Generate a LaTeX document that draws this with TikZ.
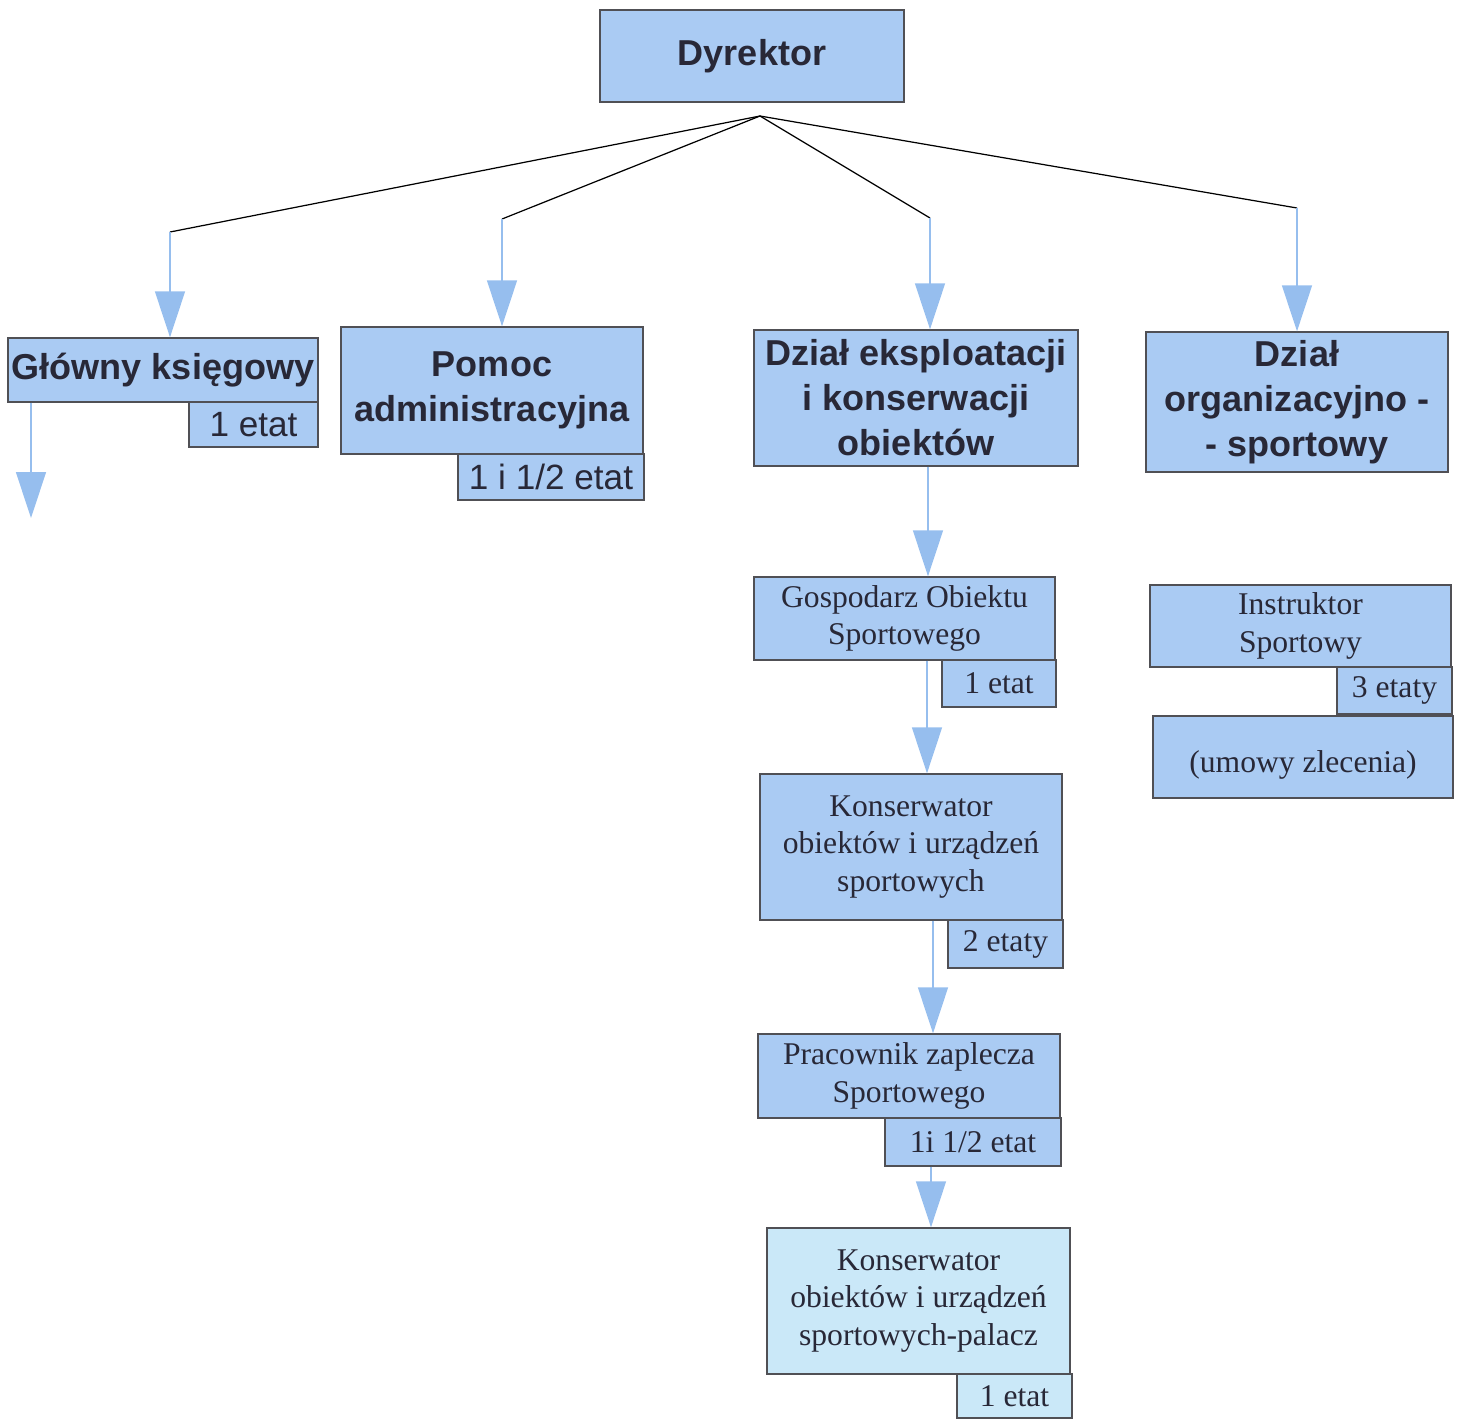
\documentclass[tikz,border=0pt]{standalone}
\usepackage{fontspec}
\setmainfont{Liberation Serif}
\newfontfamily\headfont{Liberation Sans}
\usetikzlibrary{arrows.meta}
\definecolor{boxblue}{RGB}{170,203,243}
\definecolor{boxpale}{RGB}{202,232,248}
\definecolor{arrowblue}{RGB}{150,190,238}
\definecolor{edgegray}{RGB}{80,80,85}
\definecolor{inkdark}{RGB}{40,40,55}

\begin{document}
\begin{tikzpicture}[x=0.02cm,
				y=-0.02cm,
				box/.style={draw=edgegray, fill=boxblue, line width=0.8pt, inner sep=0pt, align=center, text=inkdark},
				head/.style={box, font=\headfont\bfseries\fontsize{20.5}{25.6}\selectfont},
				post/.style={box, font=\headfont\fontsize{20}{24}\selectfont},
				plain/.style={box, font=\fontsize{18}{21.5}\selectfont},
				fan/.style={draw=black, line width=0.7pt},
				down/.style={draw=arrowblue, line width=0.8pt, -{Triangle[width=0.6cm, length=0.92cm, fill=arrowblue]}}]
				\useasboundingbox (0,0) rectangle (1461,1418);
				\node at (752,56) (dyr) [head, minimum width=6.08cm, minimum height=1.84cm] {Dyrektor};
				\node at (163,370) (gk) [head, minimum width=6.2cm, minimum height=1.28cm] {Główny księgowy};
				\node at (253.5,424.5) (gket) [post, minimum width=2.58cm, minimum height=0.9cm] {1 etat};
				\node at (492,390.5) (pa) [head, minimum width=6.04cm, minimum height=2.54cm] {Pomoc\\administracyjna};
				\node at (551,477) (paet) [post, minimum width=3.72cm, minimum height=0.92cm] {1 i 1/2 etat};
				\node at (916,398) (de) [head, minimum width=6.48cm, minimum height=2.72cm] {Dział eksploatacji\\i konserwacji\\obiektów};
				\node at (1297,402) (dor) [head, minimum width=6.04cm, minimum height=2.8cm] {Dział\\organizacyjno -\\- sportowy};
				\node at (904.5,618.5) (gos) [plain, minimum width=6.02cm, minimum height=1.66cm] {Gospodarz Obiektu\\Sportowego};
				\node at (999,683.5) (goset) [plain, minimum width=2.28cm, minimum height=0.94cm] {1 etat};
				\node at (1300.5,626) (ins) [plain, minimum width=6.02cm, minimum height=1.64cm] {Instruktor\\Sportowy};
				\node at (1394.5,690.5) (inset) [plain, minimum width=2.3cm, minimum height=0.94cm] {3 etaty};
				\node at (1303,757) (umo) [plain, minimum width=6.0cm, minimum height=1.64cm] {~\\(umowy zlecenia)};
				\node at (911,847) (kon) [plain, minimum width=6.04cm, minimum height=2.92cm] {Konserwator\\obiektów i urządzeń\\sportowych};
				\node at (1005.5,944) (konet) [plain, minimum width=2.3cm, minimum height=0.96cm] {2 etaty};
				\node at (909,1076) (pra) [plain, minimum width=6.04cm, minimum height=1.68cm] {Pracownik zaplecza\\Sportowego};
				\node at (973,1142) (praet) [plain, minimum width=3.52cm, minimum height=0.96cm] {1i 1/2 etat};
				\node at (918.5,1301) (pal) [plain, fill=boxpale, minimum width=6.06cm, minimum height=2.92cm] {Konserwator\\obiektów i urządzeń\\sportowych-palacz};
				\node at (1014.5,1396) (palet) [plain, fill=boxpale, minimum width=2.3cm, minimum height=0.88cm] {1 etat};
				\coordinate (hub) at (760,116);
				\coordinate (k1) at (170,232);
				\coordinate (k2) at (502,219);
				\coordinate (k3) at (930,218);
				\coordinate (k4) at (1297,208);
				\coordinate (gkend) at (31,518);
				\draw[fan] (hub) -- (k1);
				\draw[fan] (hub) -- (k2);
				\draw[fan] (hub) -- (k3);
				\draw[fan] (hub) -- (k4);
				\draw[down] (k1) -- (k1 |- gk.north);
				\draw[down] (k2) -- (k2 |- pa.north);
				\draw[down] (k3) -- (k3 |- de.north);
				\draw[down] (k4) -- (k4 |- dor.north);
				\draw[down] (gk.south -| gkend) -- (gkend);
				\draw[down] ([xshift=0.24cm]de.south) -- ([xshift=0.24cm]de.south |- gos.north);
				\draw[down] ([xshift=0.45cm]gos.south) -- ([xshift=0.45cm]gos.south |- kon.north);
				\draw[down] ([xshift=0.44cm]kon.south) -- ([xshift=0.44cm]kon.south |- pra.north);
				\draw[down] ([xshift=0.44cm]pra.south |- praet.south) -- ([xshift=0.44cm]pra.south |- pal.north);
			\end{tikzpicture}
\end{document}
